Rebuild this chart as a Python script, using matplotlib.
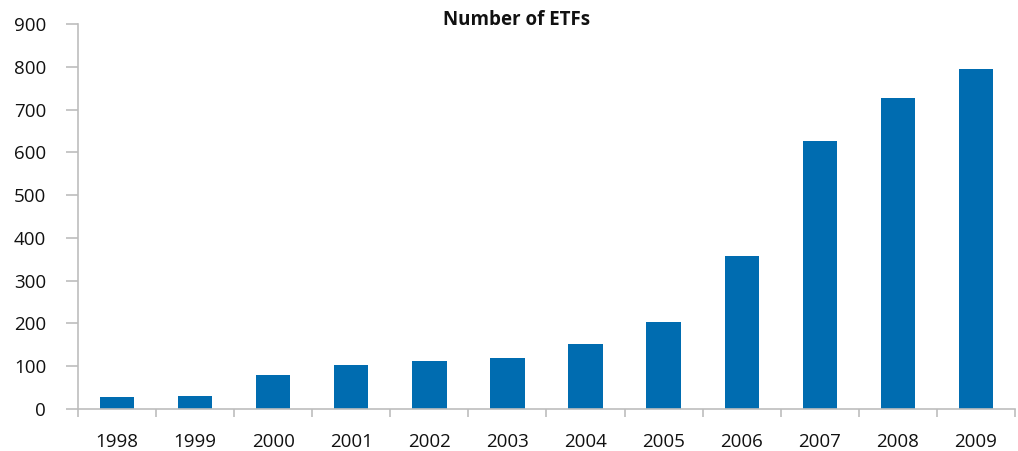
import matplotlib
matplotlib.use("Agg")
import matplotlib.pyplot as plt
import numpy as np

years = ["1998", "1999", "2000", "2001", "2002", "2003", "2004", "2005", "2006", "2007", "2008", "2009"]
etf_counts = [29, 30, 80, 102, 112, 119, 152, 203, 358, 626, 727, 795]
y_ticks = [0, 100, 200, 300, 400, 500, 600, 700, 800, 900]
title = "Number of ETFs"

plt.rcParams['font.family'] = ['Open Sans', 'DejaVu Sans']

fig = plt.figure(figsize=(10.18, 4.51), dpi=100)
ax = fig.add_axes([78/1018, 42/451, 937/1018, 385/451])

x = np.arange(len(years))
ax.bar(x, etf_counts, width=0.44, color="#006CB0", zorder=2)

ax.set_xlim(-0.5, len(years) - 0.5)
ax.set_ylim(0, 900)
ax.set_yticks(y_ticks)
ax.set_yticklabels([str(v) for v in y_ticks], fontsize=13.5, color="#111111")
ax.set_xticks(x)
ax.set_xticklabels(years, fontsize=13.5, color="#111111")
ax.tick_params(axis='x', which='major', length=0, pad=17)
ax.set_xticks(np.arange(-0.5, len(years)), minor=True)
ax.tick_params(axis='x', which='minor', length=6, width=1.2, color="#BDBDBD", direction='out')
ax.tick_params(axis='y', length=9, width=1.2, color="#BDBDBD", direction='out', pad=14)

for s in ['top', 'right']:
    ax.spines[s].set_visible(False)
for s in ['left', 'bottom']:
    ax.spines[s].set_color("#BDBDBD")
    ax.spines[s].set_linewidth(1.2)

fig.text(517/1018, 1 - 20/451, title, ha='center', va='center', fontsize=13.5, fontweight='bold', color="#111111")

fig.savefig("out.png", dpi=100)
